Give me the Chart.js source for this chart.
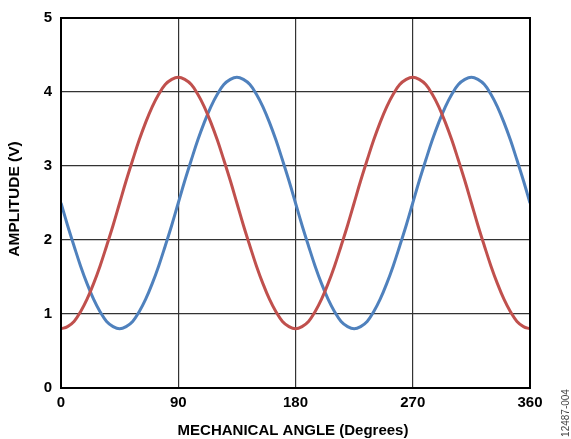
<!DOCTYPE html>
<html><head><meta charset="utf-8">
<script src="https://cdn.jsdelivr.net/npm/chart.js@4/dist/chart.umd.min.js"></script>
<style>html,body{margin:0;padding:0;background:#fff}#wrap{width:571px;height:439px;position:relative}</style>
</head><body><div id="wrap"><canvas id="c" width="571" height="439"></canvas></div>
<script>
const angles = [0,5,10,15,20,25,30,35,40,45,50,55,60,65,70,75,80,85,90,95,100,105,110,115,120,125,130,135,140,145,150,155,160,165,170,175,180,185,190,195,200,205,210,215,220,225,230,235,240,245,250,255,260,265,270,275,280,285,290,295,300,305,310,315,320,325,330,335,340,345,350,355,360];
const redValues = [0.80,0.83,0.90,1.03,1.20,1.41,1.65,1.92,2.20,2.50,2.80,3.08,3.35,3.59,3.80,3.97,4.10,4.17,4.20,4.17,4.10,3.97,3.80,3.59,3.35,3.08,2.80,2.50,2.20,1.92,1.65,1.41,1.20,1.03,0.90,0.83,0.80,0.83,0.90,1.03,1.20,1.41,1.65,1.92,2.20,2.50,2.80,3.08,3.35,3.59,3.80,3.97,4.10,4.17,4.20,4.17,4.10,3.97,3.80,3.59,3.35,3.08,2.80,2.50,2.20,1.92,1.65,1.41,1.20,1.03,0.90,0.83,0.80];
const blueValues = [2.50,2.20,1.92,1.65,1.41,1.20,1.03,0.90,0.83,0.80,0.83,0.90,1.03,1.20,1.41,1.65,1.92,2.20,2.50,2.80,3.08,3.35,3.59,3.80,3.97,4.10,4.17,4.20,4.17,4.10,3.97,3.80,3.59,3.35,3.08,2.80,2.50,2.20,1.92,1.65,1.41,1.20,1.03,0.90,0.83,0.80,0.83,0.90,1.03,1.20,1.41,1.65,1.92,2.20,2.50,2.80,3.08,3.35,3.59,3.80,3.97,4.10,4.17,4.20,4.17,4.10,3.97,3.80,3.59,3.35,3.08,2.80,2.50];
const xTicks = [0,90,180,270,360];
const yTicks = [0,1,2,3,4,5];
const xTitle = 'MECHANICAL ANGLE (Degrees)';
const yTitle = 'AMPLITUDE (V)';
const figId = '12487-004';

const toPts = (vals) => vals.map((v,i)=>({x:angles[i], y:v}));
const FONT = '"Liberation Sans", Arial, sans-serif';

const extras = {
  id:'extras',
  afterDraw(chart){
    const ctx = chart.ctx, a = chart.chartArea;
    ctx.save();
    ctx.strokeStyle = '#000'; ctx.lineWidth = 2;
    ctx.strokeRect(a.left, a.top, a.right-a.left, a.bottom-a.top);
    ctx.fillStyle = '#000';
    ctx.font = 'bold 15px ' + FONT;
    ctx.textAlign = 'center'; ctx.textBaseline = 'middle';
    ctx.fillText(xTitle, 293, 431);
    ctx.translate(15, 199);
    ctx.rotate(-Math.PI/2);
    ctx.font = 'bold 15.5px ' + FONT;
    ctx.fillText(yTitle, 0, 0);
    ctx.restore();
    ctx.save();
    ctx.fillStyle = '#444';
    ctx.font = '10px ' + FONT;
    ctx.textAlign = 'center'; ctx.textBaseline = 'middle';
    ctx.translate(566, 413);
    ctx.rotate(-Math.PI/2);
    ctx.fillText(figId, 0, 0);
    ctx.restore();
  }
};

new Chart(document.getElementById('c'), {
  type:'scatter',
  data:{datasets:[
    {data:toPts(redValues), showLine:true, borderColor:'#c0504d', borderWidth:3, pointRadius:0, tension:0.4, fill:false},
    {data:toPts(blueValues), showLine:true, borderColor:'#4f81bd', borderWidth:3, pointRadius:0, tension:0.4, fill:false}
  ]},
  options:{
    responsive:false, animation:false, devicePixelRatio:1,
    layout:{padding:{top:15,right:41,left:0,bottom:0}},
    plugins:{legend:{display:false}, tooltip:{enabled:false}},
    scales:{
      x:{type:'linear', min:0, max:360,
        afterBuildTicks(s){ s.ticks = xTicks.map(v=>({value:v})); },
        afterFit(s){ s.height = 51; },
        border:{display:false},
        grid:{color:'#333', lineWidth:1.2, drawTicks:false},
        ticks:{color:'#000', padding:6, font:{family:FONT, size:15, weight:'bold'}, maxRotation:0}
      },
      y:{type:'linear', min:0, max:5,
        afterBuildTicks(s){ s.ticks = yTicks.map(v=>({value:v})); },
        afterFit(s){ s.width = 61; },
        border:{display:false},
        grid:{color:'#333', lineWidth:1.2, drawTicks:false},
        ticks:{color:'#000', padding:9, font:{family:FONT, size:15, weight:'bold'}}
      }
    }
  },
  plugins:[extras]
});
</script></body></html>
